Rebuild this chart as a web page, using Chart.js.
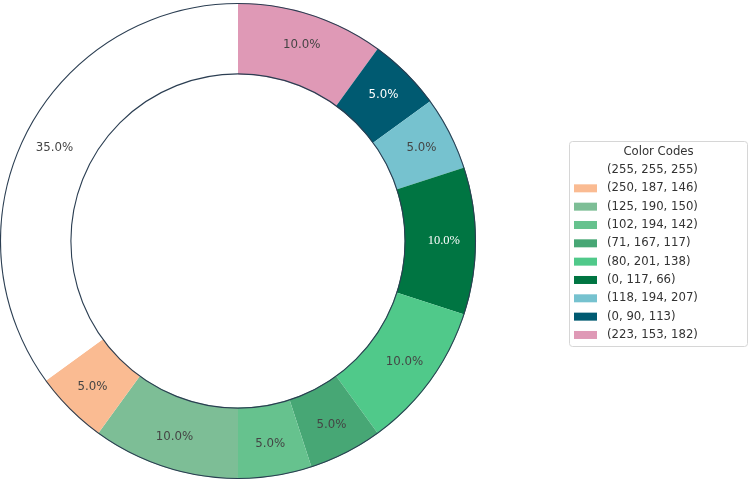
<!DOCTYPE html>
<html>
<head>
<meta charset="utf-8">
<script src="https://cdn.jsdelivr.net/npm/chart.js@4.4.1/dist/chart.umd.min.js"></script>
<style>
  html, body { margin: 0; padding: 0; background: #fff; }
  #wrap { width: 750px; height: 490px; }
</style>
</head>
<body>
<div id="wrap"><canvas id="donut" width="750" height="490"></canvas></div>
<script>
// Legend order (matplotlib order, drawn counter-clockwise from 12 o'clock)
const codeLabels = [
    '(255, 255, 255)', '(250, 187, 146)', '(125, 190, 150)', '(102, 194, 142)',
    '(71, 167, 117)', '(80, 201, 138)', '(0, 117, 66)', '(118, 194, 207)',
    '(0, 90, 113)', '(223, 153, 182)'
];
const sliceColors = [
    'rgb(255, 255, 255)', 'rgb(250, 187, 146)', 'rgb(125, 190, 150)', 'rgb(102, 194, 142)',
    'rgb(71, 167, 117)', 'rgb(80, 201, 138)', 'rgb(0, 117, 66)', 'rgb(118, 194, 207)',
    'rgb(0, 90, 113)', 'rgb(223, 153, 182)'
];
const shares = [35, 5, 10, 5, 5, 10, 10, 5, 5, 10];
// label text colours (white on the two dark slices)
const labelColors = ['#444', '#444', '#444', '#444', '#444', '#444', '#fff', '#444', '#fff', '#444'];

// Chart.js goes clockwise, so feed it reversed copies
const drawLabels = codeLabels.slice().reverse();
const drawColors = sliceColors.slice().reverse();
const drawShares = shares.slice().reverse();
const drawText = labelColors.slice().reverse();

const ringPlugin = {
    id: 'ringPlugin',
    afterDatasetsDraw(chart) {
        const ctx = chart.ctx;
        const meta = chart.getDatasetMeta(0);
        const arcs = meta.data;
        if (!arcs.length) return;
        const a0 = arcs[0];
        const cx = a0.x, cy = a0.y;

        // outer and inner edge lines
        ctx.save();
        ctx.strokeStyle = '#2b3e52';
        ctx.lineWidth = 1.1;
        ctx.beginPath();
        ctx.arc(cx, cy, a0.outerRadius - 0.5, 0, Math.PI * 2);
        ctx.stroke();
        ctx.beginPath();
        ctx.arc(cx, cy, a0.innerRadius + 0.5, 0, Math.PI * 2);
        ctx.stroke();
        ctx.restore();

        // percentage labels
        const total = drawShares.reduce((s, v) => s + v, 0);
        arcs.forEach(function (arc, i) {
            const mid = (arc.startAngle + arc.endAngle) / 2;
            const r = arc.outerRadius * 0.865;
            const x = cx + Math.cos(mid) * r;
            const y = cy + Math.sin(mid) * r;
            const txt = (drawShares[i] / total * 100).toFixed(1) + '%';
            ctx.save();
            ctx.fillStyle = drawText[i];
            const isSerif = drawLabels[i] === '(0, 117, 66)';
            ctx.font = isSerif ? '12.5px "Liberation Serif", "DejaVu Serif", serif'
                               : '11.8px "DejaVu Sans", sans-serif';
            ctx.textAlign = 'center';
            ctx.textBaseline = 'middle';
            ctx.fillText(txt, x, y);
            ctx.restore();
        });
    },
    afterDraw(chart) {
        // legend box "Color Codes"
        const ctx = chart.ctx;
        const bx = 569.5, by = 141.5, bw = 178, bh = 205;
        ctx.save();
        ctx.strokeStyle = '#d6d6d6';
        ctx.lineWidth = 1;
        ctx.beginPath();
        ctx.roundRect(bx, by, bw, bh, 3);
        ctx.fillStyle = '#fff';
        ctx.fill();
        ctx.stroke();

        ctx.fillStyle = '#333';
        ctx.font = '11.7px "DejaVu Sans", sans-serif';
        ctx.textBaseline = 'middle';
        ctx.textAlign = 'center';
        ctx.fillText('Color Codes', bx + bw / 2, 152);

        ctx.textAlign = 'left';
        codeLabels.forEach(function (lab, i) {
            const y = 170 + i * 18.33;
            ctx.fillStyle = sliceColors[i];
            ctx.fillRect(574, y - 4, 23, 8);
            ctx.fillStyle = '#333';
            ctx.fillText(lab, 607, y);
        });
        ctx.restore();
    }
};

new Chart(document.getElementById('donut').getContext('2d'), {
    type: 'doughnut',
    data: {
        labels: drawLabels,
        datasets: [{
            data: drawShares,
            backgroundColor: drawColors,
            borderWidth: 0
        }]
    },
    options: {
        responsive: false,
        animation: false,
        cutout: '70%',
        rotation: 0,
        layout: { padding: { left: 0, top: 3, right: 274, bottom: 11 } },
        plugins: {
            legend: { display: false },
            tooltip: { enabled: false }
        }
    },
    plugins: [ringPlugin]
});
</script>
</body>
</html>
